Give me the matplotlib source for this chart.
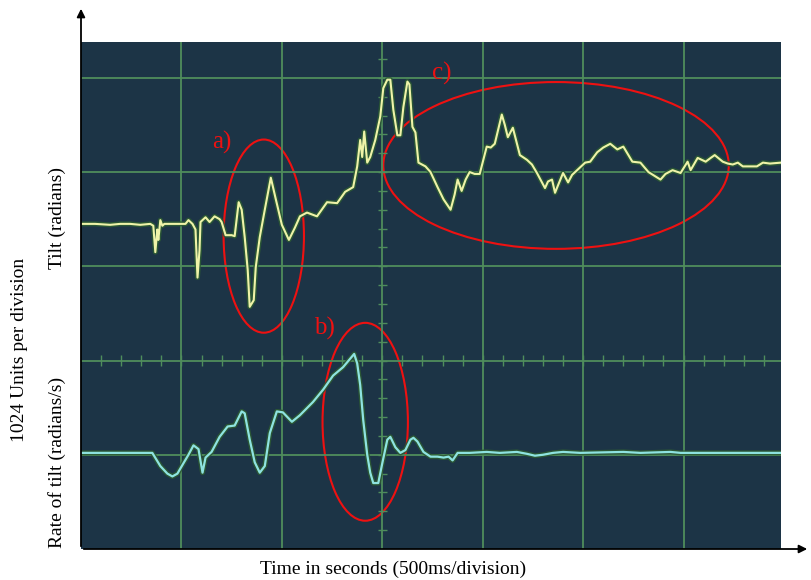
import matplotlib
matplotlib.use("Agg")
import matplotlib.pyplot as plt
import matplotlib.patheffects as pe
from matplotlib.patches import Ellipse, FancyArrowPatch
import numpy as np

# time axis in divisions (500 ms each), signal in divisions (1024 units each)
tilt_t = [0.01, 0.14, 0.29, 0.39, 0.49, 0.59, 0.69, 0.72, 0.74, 0.76, 0.77, 0.79, 0.81, 0.83,
          1.04, 1.07, 1.11, 1.14, 1.16, 1.18, 1.19, 1.24, 1.28, 1.33, 1.38, 1.40, 1.44, 1.50,
          1.53, 1.57, 1.60, 1.63, 1.66, 1.68, 1.72, 1.74, 1.78, 1.83, 1.89, 1.94, 2.00, 2.07,
          2.13, 2.18, 2.25, 2.35, 2.45, 2.55, 2.63, 2.71, 2.75, 2.78, 2.80, 2.82, 2.85, 2.88,
          2.93, 2.98, 3.01, 3.05, 3.08, 3.11, 3.15, 3.18, 3.21, 3.25, 3.27, 3.30, 3.33, 3.36,
          3.43, 3.48, 3.55, 3.61, 3.68, 3.72, 3.75, 3.79, 3.83, 3.87, 3.92, 3.97, 4.04, 4.08,
          4.12, 4.19, 4.22, 4.25, 4.30, 4.37, 4.44, 4.49, 4.54, 4.62, 4.65, 4.69, 4.72, 4.75,
          4.80, 4.85, 4.89, 4.94, 5.02, 5.07, 5.14, 5.20, 5.27, 5.34, 5.40, 5.45, 5.49, 5.57,
          5.65, 5.71, 5.77, 5.82, 5.89, 5.97, 6.04, 6.07, 6.14, 6.22, 6.27, 6.31, 6.39, 6.44,
          6.49, 6.54, 6.59, 6.66, 6.73, 6.79, 6.86, 6.97]
tilt_v = [3.45, 3.45, 3.44, 3.45, 3.45, 3.44, 3.45, 3.43, 3.15, 3.39, 3.28, 3.49, 3.43, 3.45,
          3.45, 3.49, 3.45, 3.39, 2.88, 3.17, 3.47, 3.52, 3.47, 3.53, 3.50, 3.47, 3.33, 3.33,
          3.32, 3.68, 3.60, 3.31, 2.96, 2.57, 2.64, 2.99, 3.31, 3.60, 3.94, 3.71, 3.44, 3.28,
          3.41, 3.53, 3.57, 3.53, 3.68, 3.67, 3.79, 3.84, 4.06, 4.34, 4.16, 4.43, 4.10, 4.16,
          4.34, 4.59, 4.89, 4.98, 4.98, 4.66, 4.39, 4.39, 4.69, 4.96, 4.93, 4.48, 4.42, 4.10,
          4.06, 4.00, 3.84, 3.71, 3.60, 3.76, 3.92, 3.80, 3.92, 4.00, 3.98, 3.98, 4.27, 4.26,
          4.30, 4.61, 4.50, 4.37, 4.47, 4.18, 4.13, 4.08, 3.99, 3.83, 3.90, 3.92, 3.78, 3.86,
          3.99, 3.89, 3.97, 4.02, 4.10, 4.11, 4.21, 4.26, 4.30, 4.24, 4.27, 4.18, 4.11, 4.10,
          4.00, 3.96, 3.92, 3.98, 4.02, 3.99, 4.11, 4.02, 4.15, 4.11, 4.15, 4.18, 4.11, 4.09,
          4.08, 4.10, 4.06, 4.06, 4.06, 4.10, 4.09, 4.10]

rate_t = [0.01, 0.71, 0.79, 0.86, 0.91, 0.96, 1.02, 1.07, 1.12, 1.17, 1.21, 1.24, 1.30, 1.38,
          1.46, 1.53, 1.60, 1.63, 1.68, 1.73, 1.78, 1.83, 1.88, 1.95, 2.01, 2.10, 2.18, 2.31,
          2.41, 2.51, 2.61, 2.72, 2.75, 2.78, 2.81, 2.85, 2.88, 2.91, 2.96, 3.00, 3.05, 3.08,
          3.13, 3.18, 3.23, 3.28, 3.31, 3.35, 3.41, 3.48, 3.55, 3.61, 3.66, 3.70, 3.75, 3.87,
          4.04, 4.17, 4.34, 4.44, 4.52, 4.60, 4.70, 4.80, 4.97, 5.40, 5.57, 5.87, 5.97, 6.96]
rate_v = [1.02, 1.02, 0.88, 0.80, 0.77, 0.80, 0.91, 1.00, 1.10, 1.06, 0.81, 0.97, 1.03, 1.19,
          1.30, 1.31, 1.46, 1.44, 1.16, 0.92, 0.81, 0.88, 1.23, 1.46, 1.45, 1.35, 1.42, 1.56,
          1.69, 1.84, 1.93, 2.07, 1.97, 1.74, 1.37, 1.00, 0.81, 0.70, 0.70, 0.91, 1.16, 1.19,
          1.08, 1.02, 1.05, 1.16, 1.18, 1.14, 1.03, 0.98, 0.98, 0.97, 0.98, 0.94, 1.02, 1.02,
          1.03, 1.02, 1.03, 1.01, 0.99, 1.00, 1.02, 1.03, 1.02, 1.03, 1.02, 1.03, 1.02, 1.02]

# highlighted regions: label, centre (t, v), width, height, label position
regions = [
    ("a)", (1.82, 3.32), 0.80, 2.05, (1.40, 4.31)),
    ("b)", (2.83, 1.35), 0.85, 2.10, (2.42, 2.34)),
    ("c)", (4.73, 4.07), 3.44, 1.77, (3.59, 5.05)),
]

W, H = 811, 580
fig = plt.figure(figsize=(W / 100, H / 100), dpi=100)
ax = fig.add_axes([81 / W, 1 - 549 / H, 700 / W, 507 / H])
ax.set_facecolor("#1c3446")
ax.set_xlim(0, 6.97)
ax.set_ylim(0, 5.38)
for s in ax.spines.values():
    s.set_visible(False)

gridc = "#4f8d5c"
ax.set_xticks(range(1, 7))
ax.set_yticks(range(1, 6))
ax.grid(color=gridc, lw=1.3)
ax.tick_params(length=0, labelleft=False, labelbottom=False)

# small ticks on the centre lines
tx = np.arange(0.2, 6.97, 0.2)
ax.vlines(tx, 2 - 0.06, 2 + 0.06, color=gridc, lw=1.0)
ty = np.arange(0.2, 5.38, 0.2)
ax.hlines(ty, 3 - 0.045, 3 + 0.045, color=gridc, lw=1.0)

glow = [pe.Stroke(linewidth=3.6, foreground="#2c5a34", alpha=0.9), pe.Normal()]
ax.plot(tilt_t, tilt_v, color="#eef3a8", lw=1.5, path_effects=glow)
ax.plot(rate_t, rate_v, color="#8ee3e0", lw=1.6, path_effects=glow)

for lab, c, w, h, lp in regions:
    ax.add_patch(Ellipse(c, w, h, fill=False, ec="#ee1111", lw=1.5))
    ax.text(lp[0], lp[1], lab, color="#ee1111", fontsize=18, family="Liberation Serif",
            ha="center", va="center")

# axis arrows
x0, y0 = 81 / W, 1 - 549 / H
fig.add_artist(FancyArrowPatch((x0, y0), (x0, 1 - 6 / H), transform=fig.transFigure,
                               arrowstyle="-|>", mutation_scale=12, lw=1.3, color="black"))
fig.add_artist(FancyArrowPatch((x0, y0), (810 / W, y0), transform=fig.transFigure,
                               arrowstyle="-|>", mutation_scale=12, lw=1.3, color="black"))

serif = "Liberation Serif"
fig.text(393 / W, 1 - 569 / H, "Time in seconds (500ms/division)", family=serif,
         fontsize=14, ha="center", va="center")
fig.text(57 / W, 1 - 218 / H, "Tilt (radians)", family=serif, fontsize=14,
         rotation=90, ha="center", va="center")
fig.text(57 / W, 1 - 462 / H, "Rate of tilt (radians/s)", family=serif, fontsize=14,
         rotation=90, ha="center", va="center")
fig.text(20 / W, 1 - 350 / H, "1024 Units per division", family=serif, fontsize=14,
         rotation=90, ha="center", va="center")

fig.savefig("out.png", dpi=100)
